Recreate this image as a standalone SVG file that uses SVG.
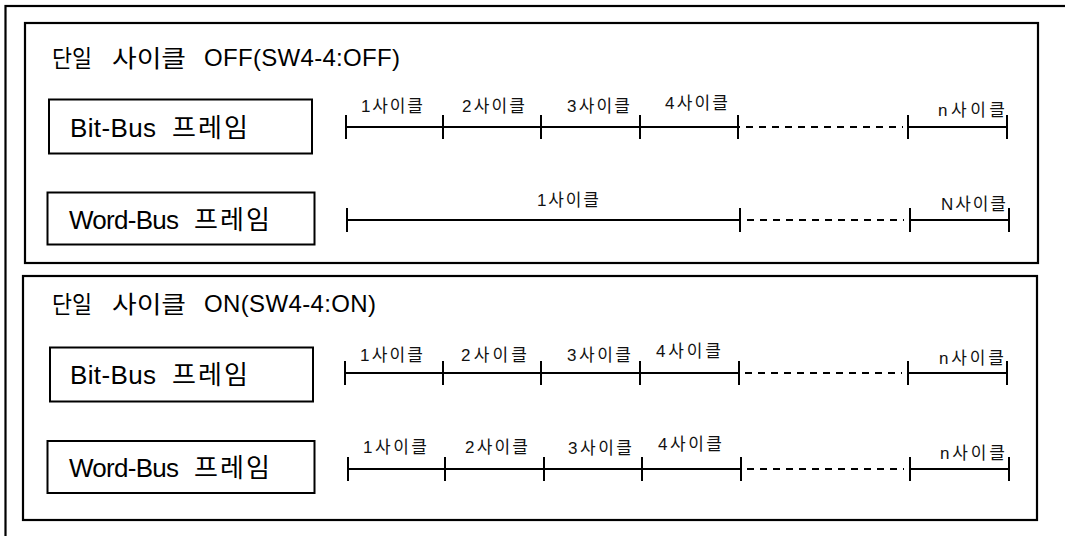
<svg xmlns="http://www.w3.org/2000/svg" width="1065" height="536" viewBox="0 0 1065 536">
<style>
.frame{fill:none;stroke:#000;stroke-width:2.2}
.box{fill:#fff;stroke:#000;stroke-width:2}
.title{font-family:"Liberation Sans","Noto Sans CJK KR",sans-serif;font-size:24px;fill:#000}
.tk{font-family:"Noto Sans CJK KR",sans-serif;font-size:24px;fill:#000}
.btxt{font-family:"Liberation Sans","Noto Sans CJK KR",sans-serif;font-size:26px;fill:#000}
.lbl{font-family:"Liberation Sans","Noto Sans CJK KR",sans-serif;font-size:17px;fill:#111}
.ln{stroke:#000;stroke-width:2;fill:none}
.dash{stroke:#000;stroke-width:2;fill:none;stroke-dasharray:7 6}
</style>
<rect width="1065" height="536" fill="#fff"/>
<g id="frames">
<rect class="frame" x="5.5" y="6" width="1080" height="545"/>
<rect class="frame" x="25" y="23" width="1013" height="240"/>
<rect class="frame" x="23" y="276" width="1014" height="244"/>
</g>
<g id="title-off">
<text class="tk" x="52" y="67" textLength="40" lengthAdjust="spacingAndGlyphs">단일</text>
<text class="tk" x="112" y="67" textLength="74" lengthAdjust="spacingAndGlyphs">사이클</text>
<text class="title" x="204" y="66" textLength="196" lengthAdjust="spacing">OFF(SW4-4:OFF)</text>
</g>
<g id="title-on">
<text class="tk" x="52" y="313" textLength="40" lengthAdjust="spacingAndGlyphs">단일</text>
<text class="tk" x="112" y="313" textLength="74" lengthAdjust="spacingAndGlyphs">사이클</text>
<text class="title" x="204" y="312" textLength="172" lengthAdjust="spacing">ON(SW4-4:ON)</text>
</g>
<g id="node-bit-off">
<rect class="box" x="49" y="99.5" width="263" height="54"/>
<text class="btxt" x="70" y="137" textLength="86" lengthAdjust="spacing">Bit-Bus</text>
<text class="btxt" x="172" y="137" textLength="76" lengthAdjust="spacing">프레임</text>
</g>
<g id="node-word-off">
<rect class="box" x="47.5" y="192.5" width="267" height="52"/>
<text class="btxt" x="69" y="229" textLength="110" lengthAdjust="spacing">Word-Bus</text>
<text class="btxt" x="194" y="229" textLength="76" lengthAdjust="spacing">프레임</text>
</g>
<g id="node-bit-on">
<rect class="box" x="50" y="347.5" width="263" height="54"/>
<text class="btxt" x="70" y="384" textLength="86" lengthAdjust="spacing">Bit-Bus</text>
<text class="btxt" x="172" y="384" textLength="76" lengthAdjust="spacing">프레임</text>
</g>
<g id="node-word-on">
<rect class="box" x="47.5" y="441" width="267" height="52"/>
<text class="btxt" x="69" y="477" textLength="110" lengthAdjust="spacing">Word-Bus</text>
<text class="btxt" x="194" y="477" textLength="76" lengthAdjust="spacing">프레임</text>
</g>
<g id="connectors">
<path class="ln" d="M346 127H740M908 127H1007M346 115V139M443 115V139M541 115V139M640 115V139M738 115V139M908 115V139M1007 115V139"/>
<path class="dash" d="M746 127H903"/>
<path class="ln" d="M347 220H740M910 220H1009M347 208V232M740 208V232M910 208V232M1009 208V232"/>
<path class="dash" d="M747 220H904"/>
<path class="ln" d="M345 373H739M908 373H1007M345 361V385M443 361V385M541 361V385M640 361V385M739 361V385M908 361V385M1007 361V385"/>
<path class="dash" d="M745 373H902"/>
<path class="ln" d="M348 469H741M910 469H1009M348 457V481M445 457V481M544 457V481M642 457V481M741 457V481M910 457V481M1009 457V481"/>
<path class="dash" d="M747 469H904"/>
</g>
<g id="labels">
<text class="lbl" x="361" y="112" textLength="62" lengthAdjust="spacing">1사이클</text>
<text class="lbl" x="462" y="112" textLength="63" lengthAdjust="spacing">2사이클</text>
<text class="lbl" x="567" y="112" textLength="63" lengthAdjust="spacing">3사이클</text>
<text class="lbl" x="665" y="109" textLength="63" lengthAdjust="spacing">4사이클</text>
<text class="lbl" x="938" y="116" textLength="67" lengthAdjust="spacing">n사이클</text>
<text class="lbl" x="537" y="206" textLength="62" lengthAdjust="spacing">1사이클</text>
<text class="lbl" x="941" y="210" textLength="65" lengthAdjust="spacing">N사이클</text>
<text class="lbl" x="360" y="361" textLength="63" lengthAdjust="spacing">1사이클</text>
<text class="lbl" x="461" y="361" textLength="66" lengthAdjust="spacing">2사이클</text>
<text class="lbl" x="567" y="361" textLength="64" lengthAdjust="spacing">3사이클</text>
<text class="lbl" x="656" y="357" textLength="65" lengthAdjust="spacing">4사이클</text>
<text class="lbl" x="939" y="364" textLength="65" lengthAdjust="spacing">n사이클</text>
<text class="lbl" x="363" y="453" textLength="64" lengthAdjust="spacing">1사이클</text>
<text class="lbl" x="465" y="453" textLength="63" lengthAdjust="spacing">2사이클</text>
<text class="lbl" x="568" y="454" textLength="64" lengthAdjust="spacing">3사이클</text>
<text class="lbl" x="658" y="450" textLength="64" lengthAdjust="spacing">4사이클</text>
<text class="lbl" x="940" y="459" textLength="65" lengthAdjust="spacing">n사이클</text>
</g>
</svg>
